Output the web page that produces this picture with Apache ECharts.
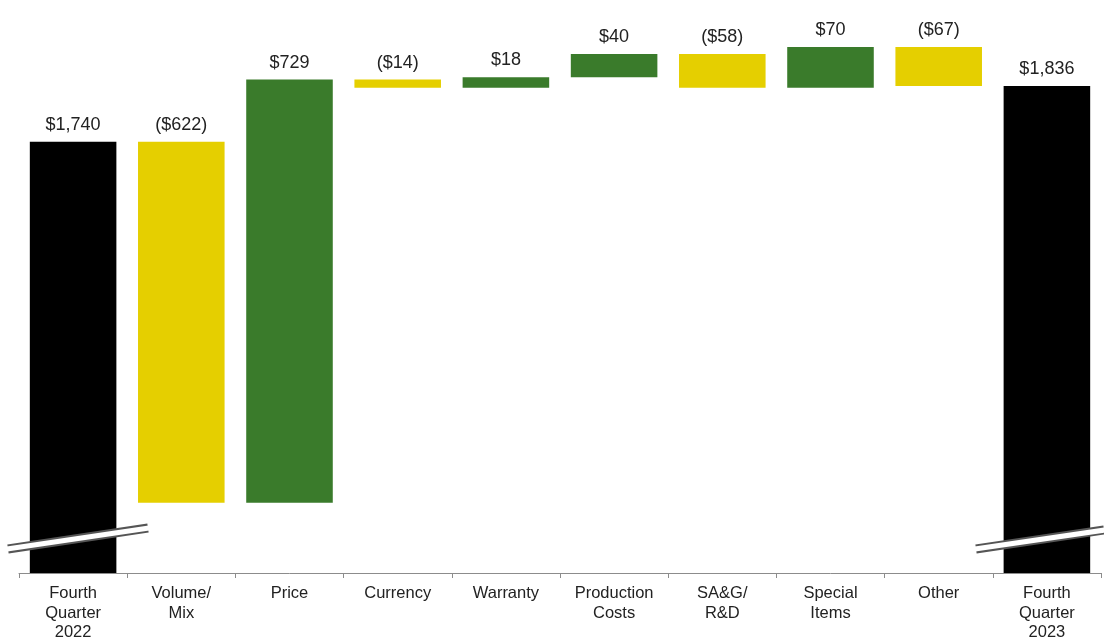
<!DOCTYPE html>
<html>
<head>
<meta charset="utf-8">
<script src="https://cdn.jsdelivr.net/npm/echarts@6/dist/echarts.min.js"></script>
<style>
html,body{margin:0;padding:0;background:#fff;}
#chart{width:1104px;height:639px;}
</style>
</head>
<body>
<div id="chart"></div>
<script>
var categories = ["Fourth\nQuarter\n2022", "Volume/\nMix", "Price", "Currency", "Warranty", "Production\nCosts", "SA&G/\nR&D", "Special\nItems", "Other", "Fourth\nQuarter\n2023"];
var values = [1740, -622, 729, -14, 18, 40, -58, 70, -67, 1836];
var isTotal = [true, false, false, false, false, false, false, false, false, true];

var COLOR_TOTAL = "#000000", COLOR_UP = "#3A7B2B", COLOR_DOWN = "#E5CF00";

var base = [], height = [], colors = [], labels = [];
var running = 0;
for (var i = 0; i < values.length; i++) {
  var v = values[i];
  if (isTotal[i]) {
    base.push(0); height.push(v); colors.push(COLOR_TOTAL); running = v;
  } else {
    var lo = v < 0 ? running + v : running;
    base.push(lo); height.push(Math.abs(v));
    colors.push(v < 0 ? COLOR_DOWN : COLOR_UP);
    running += v;
  }
  var s = "$" + Math.abs(v).toLocaleString("en-US");
  labels.push(v < 0 ? "(" + s + ")" : s);
}

var chart = echarts.init(document.getElementById("chart"));
var font = "'Liberation Sans', Arial, sans-serif";
chart.setOption({
  animation: false,
  grid: {left: 19, right: 3, top: 0, bottom: 66, outerBoundsMode: "none", containLabel: false},
  xAxis: {
    type: "category",
    data: categories,
    axisLine: {lineStyle: {color: "#8c8c8c", width: 1}},
    axisTick: {show: true, length: 5, lineStyle: {color: "#8c8c8c"}},
    axisLabel: {color: "#222", fontFamily: font, fontSize: 16.5, lineHeight: 19.5, margin: 11, interval: 0}
  },
  yAxis: {
    type: "value", min: 997, max: 1984, show: false, splitLine: {show: false}
  },
  series: [
    {
      type: "bar", stack: "w", data: base, barWidth: "80%",
      itemStyle: {color: "transparent"}, silent: true
    },
    {
      type: "bar", stack: "w", barWidth: "80%",
      data: height.map(function (h, i) { return {value: h, itemStyle: {color: colors[i]}}; }),
      label: {
        show: true, position: "top", distance: 8, color: "#222",
        fontFamily: font, fontSize: 18,
        formatter: function (p) { return labels[p.dataIndex]; }
      }
    }
  ],
  graphic: [
    {type: "line", z: 100, shape: {x1: 8, y1: 549, x2: 148, y2: 528}, style: {stroke: "#555", lineWidth: 9}},
    {type: "line", z: 101, shape: {x1: 7, y1: 549, x2: 149, y2: 528}, style: {stroke: "#fff", lineWidth: 5}},
    {type: "line", z: 100, shape: {x1: 976, y1: 549, x2: 1104, y2: 530}, style: {stroke: "#555", lineWidth: 9}},
    {type: "line", z: 101, shape: {x1: 975, y1: 549, x2: 1105, y2: 530}, style: {stroke: "#fff", lineWidth: 5}}
  ]
});
</script>
</body>
</html>
